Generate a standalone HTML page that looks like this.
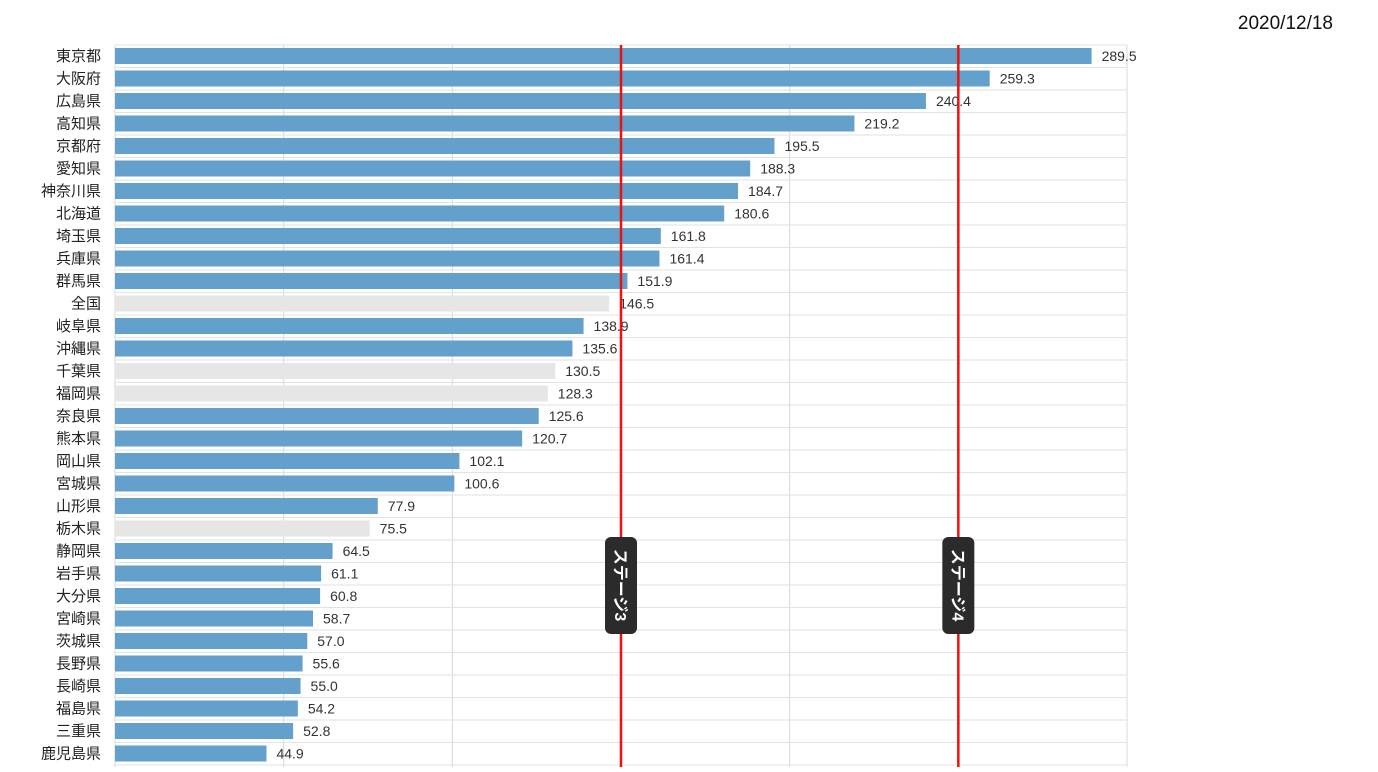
<!DOCTYPE html>
<html><head><meta charset="utf-8"><style>
body{margin:0;background:#fff;width:1378px;height:767px;overflow:hidden}
svg text{font-family:"Liberation Sans","Noto Sans CJK JP",sans-serif}
</style></head><body>
<svg width="1378" height="767" xmlns="http://www.w3.org/2000/svg">
<text x="1333" y="29" font-size="19" text-anchor="end" fill="#111">2020/12/18</text>
<g id="g"></g>
</svg>
<script>
const d=[["東京都",289.5],["大阪府",259.3],["広島県",240.4],["高知県",219.2],["京都府",195.5],["愛知県",188.3],["神奈川県",184.7],["北海道",180.6],["埼玉県",161.8],["兵庫県",161.4],["群馬県",151.9],["全国",146.5,1],["岐阜県",138.9],["沖縄県",135.6],["千葉県",130.5,1],["福岡県",128.3,1],["奈良県",125.6],["熊本県",120.7],["岡山県",102.1],["宮城県",100.6],["山形県",77.9],["栃木県",75.5,1],["静岡県",64.5],["岩手県",61.1],["大分県",60.8],["宮崎県",58.7],["茨城県",57.0],["長野県",55.6],["長崎県",55.0],["福島県",54.2],["三重県",52.8],["鹿児島県",44.9]];
const L=115,S=(1127-115)/300,T=45,H=22.5;let s='';
for(let i=0;i<=6;i++){const x=L+i*50*S;s+=`<line x1="${x}" y1="${T}" x2="${x}" y2="767" stroke="#d8d8d8"/>`;}
for(let i=0;i<=32;i++){const y=T+i*H;s+=`<line x1="${L}" y1="${y}" x2="1127" y2="${y}" stroke="#e2e2e2"/>`;}
d.forEach((r,i)=>{const c=T+H*i+11;const w=r[1]*S;
s+=`<rect x="${L}" y="${c-8}" width="${w}" height="16" fill="${r[2]?'#e6e6e6':'#63a0cb'}"/>`;
s+=`<text x="${L+w+10}" y="${c+5}" font-size="14" fill="#333">${r[1].toFixed(1)}</text>`;
s+=`<text x="101" y="${c+5}" font-size="15" text-anchor="end" fill="#222">${r[0]}</text>`;});
[[150,"ステージ3"],[250,"ステージ4"]].forEach(([v,t])=>{const x=L+v*S;
s+=`<line x1="${x}" y1="${T}" x2="${x}" y2="767" stroke="#ee1111" stroke-width="2.5"/>`;
s+=`<rect x="${x-16}" y="537" width="32" height="97" rx="6" fill="#2b2b2b"/>`;
s+=`<text transform="translate(${x-6},585) rotate(90)" font-size="16" font-weight="bold" fill="#fff" text-anchor="middle">${t}</text>`;});
document.getElementById('g').innerHTML=s;
</script>
</body></html>
